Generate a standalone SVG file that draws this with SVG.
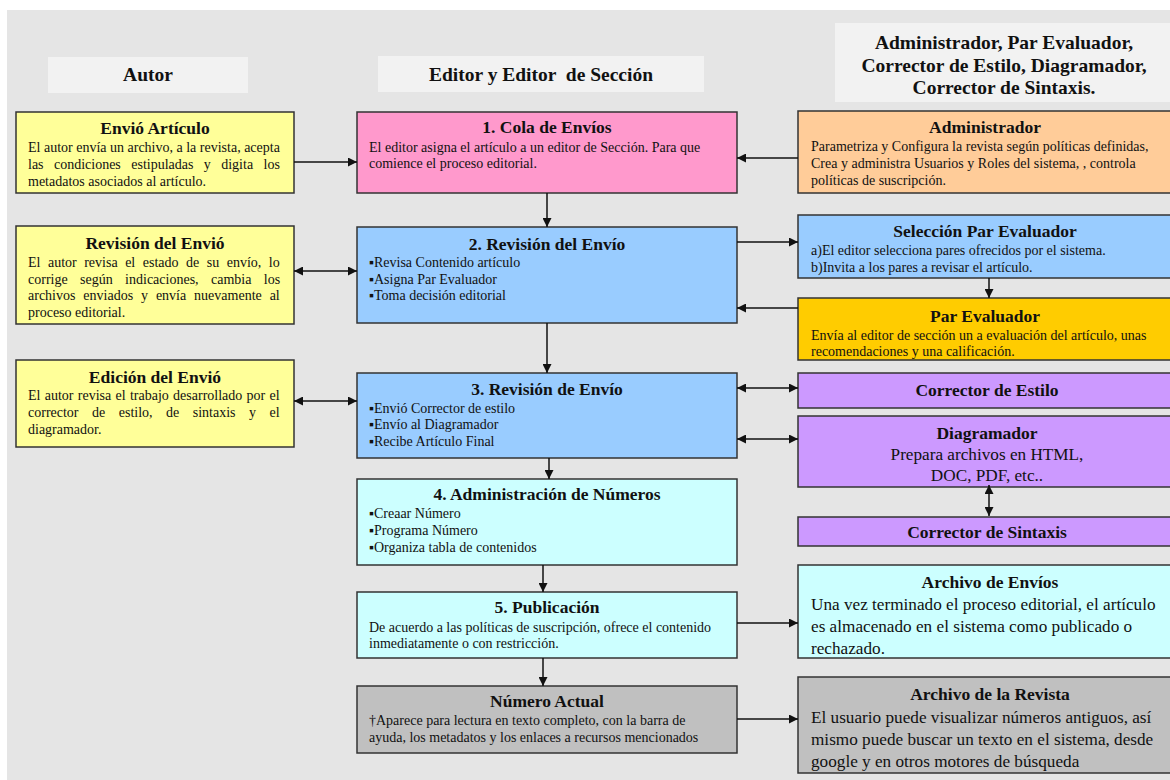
<svg xmlns="http://www.w3.org/2000/svg" width="1170" height="780" viewBox="0 0 1170 780">
<defs>
<marker id="ah" viewBox="0 0 10 10" refX="10" refY="5" markerWidth="9" markerHeight="9" markerUnits="userSpaceOnUse" orient="auto-start-reverse">
<path d="M0,0 L10,5 L0,10 z" fill="#111"/>
</marker>
<style>
.bx{stroke:#333;stroke-width:1.5}
.hd{fill:#f2f2f2}
.ht{font-family:"Liberation Serif","Times New Roman",serif;font-weight:bold;font-size:19.5px;fill:#111;text-anchor:middle}
.tt{font-family:"Liberation Serif","Times New Roman",serif;font-weight:bold;font-size:17.5px;fill:#111;text-anchor:middle}
.bd{font-family:"Liberation Serif","Times New Roman",serif;font-size:14px;fill:#111}
.lg{font-family:"Liberation Serif","Times New Roman",serif;font-size:17.2px;fill:#111}
.cn{stroke:#111;stroke-width:1.5;fill:none}
</style>
</defs>
<rect x="0" y="0" width="1170" height="780" fill="#ffffff"/>
<rect x="7" y="10" width="1163" height="770" fill="#e5e5e5"/>

<g id="hdr-autor"><rect class="hd" x="48" y="57" width="200" height="36"/><text class="ht" x="148" y="81">Autor</text></g>
<g id="hdr-editor"><rect class="hd" x="378" y="56" width="326" height="36"/><text class="ht" x="541" y="81" xml:space="preserve">Editor y Editor  de Sección</text></g>
<g id="hdr-otros"><rect class="hd" x="835" y="23" width="340" height="79"/>
<text class="ht" x="1004" y="49">Administrador, Par Evaluador,</text>
<text class="ht" x="1004" y="72">Corrector de Estilo, Diagramador,</text>
<text class="ht" x="1004" y="94">Corrector de Sintaxis.</text></g>

<g id="envio-articulo"><rect class="bx" x="16" y="112" width="278" height="81" fill="#ffff99"/>
<text class="tt" x="155" y="134">Envió Artículo</text>
<text class="bd" x="28" y="152">El autor envía un archivo, a la revista, acepta</text>
<text class="bd" x="28" y="169" word-spacing="6.9">las condiciones estipuladas y digita los</text>
<text class="bd" x="28" y="186">metadatos asociados al artículo.</text></g>

<g id="autor-revision"><rect class="bx" x="16" y="226" width="278" height="98" fill="#ffff99"/>
<text class="tt" x="155" y="249">Revisión del Envió</text>
<text class="bd" x="28" y="267" word-spacing="4">El autor revisa el estado de su envío, lo</text>
<text class="bd" x="28" y="284" word-spacing="8.9">corrige según indicaciones, cambia los</text>
<text class="bd" x="28" y="300" word-spacing="4.4">archivos enviados y envía nuevamente al</text>
<text class="bd" x="28" y="317">proceso editorial.</text></g>

<g id="autor-edicion"><rect class="bx" x="16" y="360" width="278" height="87" fill="#ffff99"/>
<text class="tt" x="155" y="383">Edición del Envió</text>
<text class="bd" x="28" y="400" word-spacing="0.8">El autor revisa el trabajo desarrollado por el</text>
<text class="bd" x="28" y="417" word-spacing="10">corrector de estilo, de sintaxis y el</text>
<text class="bd" x="28" y="434">diagramador.</text></g>

<g id="cola"><rect class="bx" x="357" y="112" width="380" height="81" fill="#ff99cc"/>
<text class="tt" x="547" y="133">1. Cola de Envíos</text>
<text class="bd" x="369" y="152">El editor asigna el artículo a un editor de Sección. Para que</text>
<text class="bd" x="369" y="168">comience el proceso editorial.</text></g>

<g id="revision2"><rect class="bx" x="357" y="227" width="380" height="96" fill="#99ccff"/>
<text class="tt" x="547" y="250">2. Revisión del Envío</text>
<text class="bd" x="369" y="267">▪Revisa Contenido artículo</text>
<text class="bd" x="369" y="284">▪Asigna Par Evaluador</text>
<text class="bd" x="369" y="300">▪Toma decisión editorial</text></g>

<g id="revision3"><rect class="bx" x="357" y="373" width="380" height="85" fill="#99ccff"/>
<text class="tt" x="547" y="395">3. Revisión de Envío</text>
<text class="bd" x="369" y="413">▪Envió Corrector de estilo</text>
<text class="bd" x="369" y="429">▪Envío al Diagramador</text>
<text class="bd" x="369" y="446">▪Recibe Artículo Final</text></g>

<g id="numeros"><rect class="bx" x="357" y="479" width="380" height="86" fill="#ccffff"/>
<text class="tt" x="547" y="500">4. Administración de Números</text>
<text class="bd" x="369" y="518">▪Creaar Número</text>
<text class="bd" x="369" y="535">▪Programa Número</text>
<text class="bd" x="369" y="552">▪Organiza tabla de contenidos</text></g>

<g id="publicacion"><rect class="bx" x="357" y="592" width="380" height="66" fill="#ccffff"/>
<text class="tt" x="547" y="613">5. Publicación</text>
<text class="bd" x="369" y="632">De acuerdo a las políticas de suscripción, ofrece el contenido</text>
<text class="bd" x="369" y="648">inmediatamente o con restricción.</text></g>

<g id="numero-actual"><rect class="bx" x="357" y="686" width="380" height="67" fill="#c0c0c0"/>
<text class="tt" x="547" y="707">Número Actual</text>
<text class="bd" x="369" y="725">†Aparece para lectura en texto completo, con la barra de</text>
<text class="bd" x="369" y="742">ayuda, los metadatos y los enlaces a recursos mencionados</text></g>

<g id="administrador"><rect class="bx" x="798" y="111" width="390" height="82" fill="#ffcc99"/>
<text class="tt" x="985" y="133">Administrador</text>
<text class="bd" x="811" y="151">Parametriza y Configura la revista según políticas definidas,</text>
<text class="bd" x="811" y="168">Crea y administra Usuarios y Roles del sistema, , controla</text>
<text class="bd" x="811" y="185">políticas de suscripción.</text></g>

<g id="seleccion"><rect class="bx" x="798" y="215" width="390" height="63" fill="#99ccff"/>
<text class="tt" x="985" y="237">Selección Par Evaluador</text>
<text class="bd" x="811" y="255">a)El editor selecciona pares ofrecidos por el sistema.</text>
<text class="bd" x="811" y="272">b)Invita a los pares a revisar el artículo.</text></g>

<g id="par"><rect class="bx" x="798" y="298" width="390" height="62" fill="#ffcc00"/>
<text class="tt" x="985" y="322">Par Evaluador</text>
<text class="bd" x="811" y="340">Envía al editor de sección un a evaluación del artículo, unas</text>
<text class="bd" x="811" y="356">recomendaciones y una calificación.</text></g>

<g id="estilo"><rect class="bx" x="798" y="373" width="390" height="35" fill="#cc99ff"/>
<text class="tt" x="987" y="396">Corrector de Estilo</text></g>

<g id="diagramador"><rect class="bx" x="798" y="416" width="390" height="71" fill="#cc99ff"/>
<text class="tt" x="987" y="439">Diagramador</text>
<text class="lg" x="987" y="460" text-anchor="middle">Prepara archivos en HTML,</text>
<text class="lg" x="987" y="481" text-anchor="middle">DOC, PDF, etc..</text></g>

<g id="sintaxis"><rect class="bx" x="798" y="517" width="390" height="29" fill="#cc99ff"/>
<text class="tt" x="987" y="538">Corrector de Sintaxis</text></g>

<g id="archivo-envios"><rect class="bx" x="798" y="565" width="390" height="93" fill="#ccffff"/>
<text class="tt" x="990" y="588">Archivo de Envíos</text>
<text class="lg" x="811" y="610">Una vez terminado el proceso editorial, el artículo</text>
<text class="lg" x="811" y="632">es almacenado en el sistema como publicado o</text>
<text class="lg" x="811" y="654">rechazado.</text></g>

<g id="archivo-revista"><rect class="bx" x="798" y="677" width="390" height="96" fill="#c0c0c0"/>
<text class="tt" x="990" y="700">Archivo de la Revista</text>
<text class="lg" x="811" y="723">El usuario puede visualizar números antiguos, así</text>
<text class="lg" x="811" y="745">mismo puede buscar un texto en el sistema, desde</text>
<text class="lg" x="811" y="767">google y en otros motores de búsqueda</text></g>

<g id="connectors">
<line class="cn" x1="294" y1="162" x2="357" y2="162" marker-end="url(#ah)"/>
<line class="cn" x1="798" y1="158" x2="737" y2="158" marker-end="url(#ah)"/>
<line class="cn" x1="547" y1="193" x2="547" y2="227" marker-end="url(#ah)"/>
<line class="cn" x1="737" y1="242" x2="798" y2="242" marker-end="url(#ah)"/>
<line class="cn" x1="798" y1="308" x2="737" y2="308" marker-end="url(#ah)"/>
<line class="cn" x1="989" y1="278" x2="989" y2="298" marker-end="url(#ah)"/>
<line class="cn" x1="294" y1="271" x2="357" y2="271" marker-start="url(#ah)" marker-end="url(#ah)"/>
<line class="cn" x1="294" y1="401" x2="357" y2="401" marker-start="url(#ah)" marker-end="url(#ah)"/>
<line class="cn" x1="547" y1="323" x2="547" y2="373" marker-end="url(#ah)"/>
<line class="cn" x1="737" y1="388" x2="798" y2="388" marker-start="url(#ah)" marker-end="url(#ah)"/>
<line class="cn" x1="737" y1="439" x2="798" y2="439" marker-start="url(#ah)" marker-end="url(#ah)"/>
<line class="cn" x1="989" y1="485" x2="989" y2="516" marker-start="url(#ah)" marker-end="url(#ah)"/>
<line class="cn" x1="549" y1="458" x2="549" y2="479" marker-end="url(#ah)"/>
<line class="cn" x1="543" y1="565" x2="543" y2="592" marker-end="url(#ah)"/>
<line class="cn" x1="737" y1="623" x2="798" y2="623" marker-end="url(#ah)"/>
<line class="cn" x1="543" y1="658" x2="543" y2="686" marker-end="url(#ah)"/>
<line class="cn" x1="737" y1="719" x2="798" y2="719" marker-end="url(#ah)"/>
</g>
</svg>
